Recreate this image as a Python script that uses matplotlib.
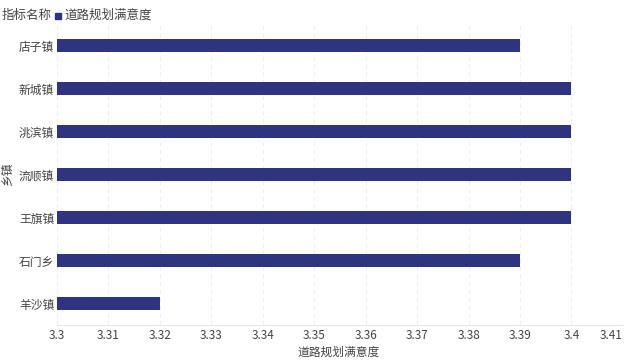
import matplotlib
matplotlib.use('Agg')
import matplotlib.pyplot as plt

plt.rcParams['font.family'] = ['Noto Sans CJK SC', 'DejaVu Sans']

towns = ['店子镇', '新城镇', '洮滨镇', '流顺镇', '王旗镇', '石门乡', '羊沙镇']
scores = [3.39, 3.40, 3.40, 3.40, 3.40, 3.39, 3.32]
xticks = [3.30, 3.31, 3.32, 3.33, 3.34, 3.35, 3.36, 3.37, 3.38, 3.39, 3.40, 3.41]
xlabels = ['3.3', '3.31', '3.32', '3.33', '3.34', '3.35', '3.36', '3.37', '3.38', '3.39', '3.4', '3.41']

bar_color = '#2E3480'
text_color = '#444444'

fig = plt.figure(figsize=(6.33, 3.62), dpi=100)
ax = fig.add_axes([0.090, 0.102, 0.894, 0.831])

ypos = list(range(len(towns)))
ax.barh(ypos, [s - 3.3 for s in scores], left=3.3, height=0.30, color=bar_color, zorder=3)

ax.set_xlim(3.3, 3.41)
ax.set_ylim(len(towns) - 0.5, -0.5)
ax.set_yticks(ypos)
ax.set_yticklabels(towns, fontsize=8.5, color=text_color)
ax.set_xticks(xticks)
ax.set_xticklabels(xlabels, fontsize=8.5, color=text_color)
ax.tick_params(axis='y', length=0, pad=2)
ax.tick_params(axis='x', length=0, pad=3)
# keep the last label inside the canvas
ax.get_xticklabels()[-1].set_horizontalalignment('right')

ax.grid(axis='x', color='#efefef', linewidth=0.8, linestyle=(0, (4, 3)), zorder=0)
for side in ['top', 'right', 'left']:
    ax.spines[side].set_visible(False)
ax.spines['bottom'].set_color('#e8e8e8')

fig.text(0.535, 0.026, '道路规划满意度', fontsize=8.5, color=text_color, va='center', ha='center')
fig.text(0.002, 0.52, '乡镇', rotation=90, fontsize=8.5, color=text_color, va='center', ha='left')

# legend-like header
fig.text(0.003, 0.958, '指标名称', fontsize=9, color=text_color, va='center', ha='left')
fig.patches.append(plt.Rectangle((0.087, 0.947), 0.010, 0.018, transform=fig.transFigure,
                                 color=bar_color, figure=fig))
fig.text(0.102, 0.958, '道路规划满意度', fontsize=9, color=text_color, va='center', ha='left')

fig.savefig('out.png', dpi=100)
